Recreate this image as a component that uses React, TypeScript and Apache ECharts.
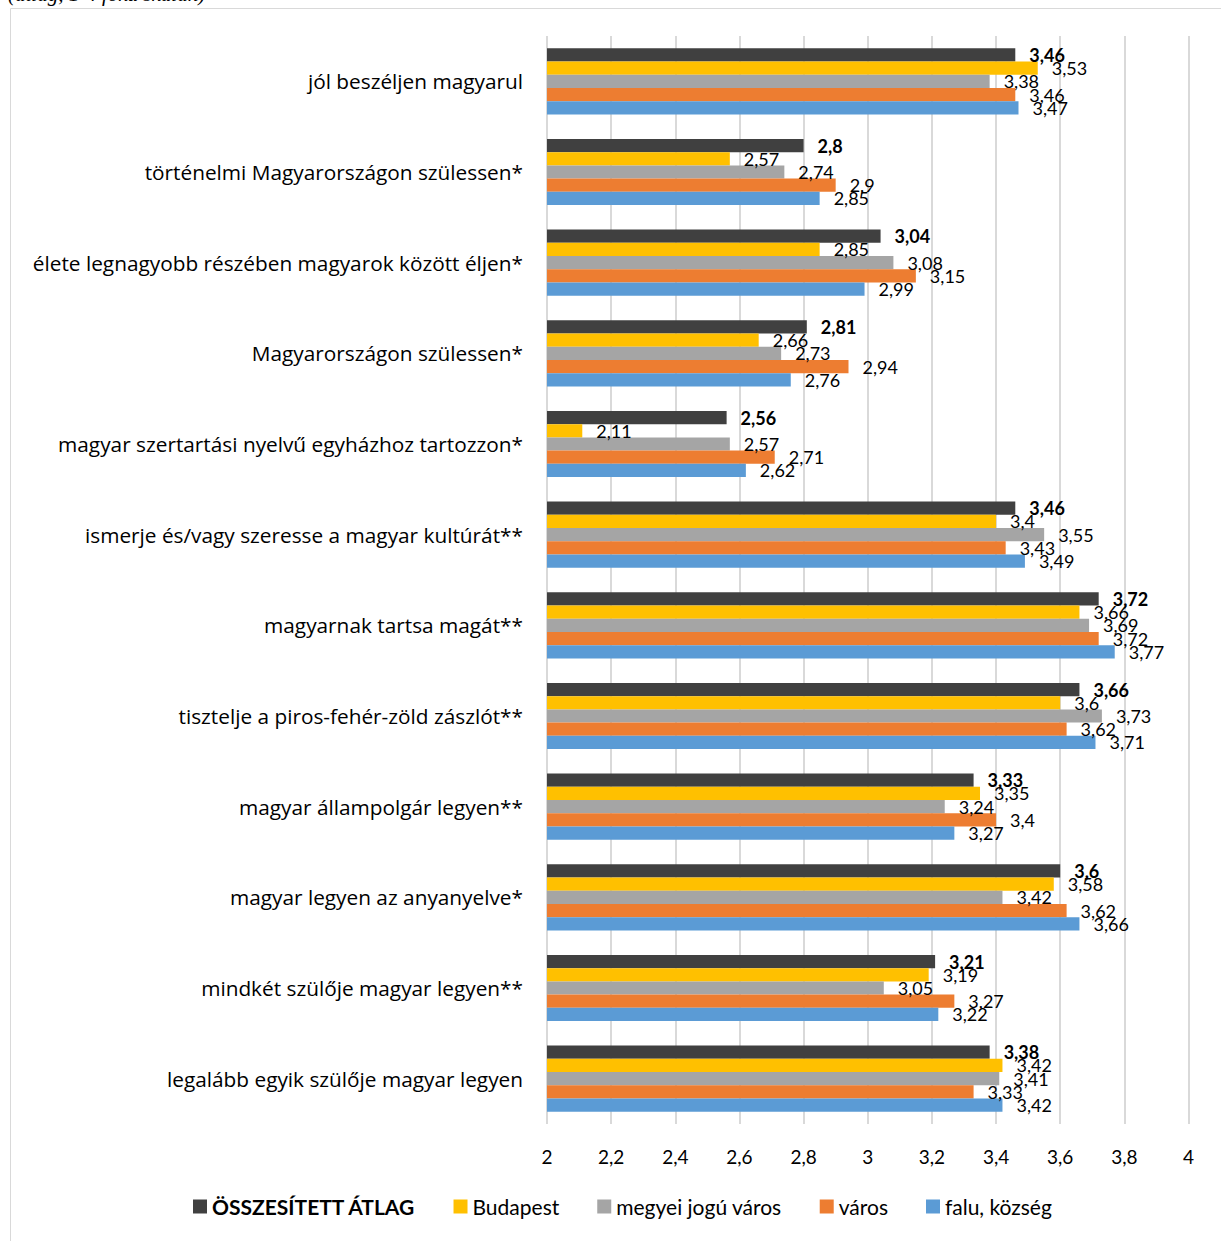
import React, { useEffect, useRef } from "react";
import * as echarts from "echarts";

const categories = [
  "jól beszéljen magyarul",
  "történelmi Magyarországon szülessen*",
  "élete legnagyobb részében magyarok között éljen*",
  "Magyarországon szülessen*",
  "magyar szertartási nyelvű egyházhoz tartozzon*",
  "ismerje és/vagy szeresse a magyar kultúrát**",
  "magyarnak tartsa magát**",
  "tisztelje a piros-fehér-zöld zászlót**",
  "magyar állampolgár legyen**",
  "magyar legyen az anyanyelve*",
  "mindkét szülője magyar legyen**",
  "legalább egyik szülője magyar legyen",
];

const seriesNames = ["ÖSSZESÍTETT ÁTLAG", "Budapest", "megyei jogú város", "város", "falu, község"];
const seriesColors = ["#404040", "#FFC000", "#A5A5A5", "#ED7D31", "#5B9BD5"];

const osszesitett = [3.46, 2.8, 3.04, 2.81, 2.56, 3.46, 3.72, 3.66, 3.33, 3.6, 3.21, 3.38];
const budapest = [3.53, 2.57, 2.85, 2.66, 2.11, 3.4, 3.66, 3.6, 3.35, 3.58, 3.19, 3.42];
const megyeiJoguVaros = [3.38, 2.74, 3.08, 2.73, 2.57, 3.55, 3.69, 3.73, 3.24, 3.42, 3.05, 3.41];
const varos = [3.46, 2.9, 3.15, 2.94, 2.71, 3.43, 3.72, 3.62, 3.4, 3.62, 3.27, 3.33];
const faluKozseg = [3.47, 2.85, 2.99, 2.76, 2.62, 3.49, 3.77, 3.71, 3.27, 3.66, 3.22, 3.42];

const seriesData = [osszesitett, budapest, megyeiJoguVaros, varos, faluKozseg];

const xTicks = ["2", "2,2", "2,4", "2,6", "2,8", "3", "3,2", "3,4", "3,6", "3,8", "4"];

const FONT = "Lato, 'Noto Sans', sans-serif";
const CAT_FONT = "'Open Sans', 'Noto Sans', sans-serif";
const fmt = (v: number) => String(Math.round(v * 100) / 100).replace(".", ",");

export default function App() {
  const ref = useRef<HTMLDivElement>(null);
  useEffect(() => {
    if (!ref.current) return;
    const chart = echarts.init(ref.current, undefined, { renderer: "svg" });
    chart.setOption({
      animation: false,
      backgroundColor: "#ffffff",
      textStyle: { fontFamily: FONT },
      graphic: [
        {
          type: "rect",
          shape: { x: 10.5, y: 8.5, width: 1230, height: 1250 },
          style: { fill: "none", stroke: "#d9d9d9", lineWidth: 1 },
          silent: true,
        },
        {
          type: "text",
          x: 8,
          y: 4,
          style: {
            text: "(átlag, 1-4 fokú skálán)",
            font: "italic 21px 'Liberation Serif', 'DejaVu Serif', serif",
            fill: "#000",
            verticalAlign: "bottom",
          },
          silent: true,
        },
      ],
      grid: { left: 547, right: 32.5, top: 36, bottom: 117, containLabel: false },
      legend: {
        data: seriesNames,
        bottom: 19,
        left: 188,
        icon: "rect",
        itemWidth: 14,
        itemHeight: 14,
        itemGap: 38,
        itemTextGap: 5,
        formatter: (name: string) => (name === seriesNames[0] ? `{b|${name}}` : `{n|${name}}`),
        textStyle: {
          fontFamily: FONT,
          fontSize: 21,
          color: "#000",
          rich: {
            b: { fontFamily: FONT, fontSize: 21, fontWeight: "bold", color: "#000" },
            n: { fontFamily: FONT, fontSize: 21, color: "#000" },
          },
        },
      },
      xAxis: {
        type: "value",
        min: 2,
        max: 4,
        interval: 0.2,
        axisLine: { show: false },
        axisTick: { show: false },
        splitLine: { show: true, lineStyle: { color: "#d9d9d9", width: 2 } },
        axisLabel: {
          fontFamily: FONT,
          fontSize: 19,
          color: "#000",
          margin: 23,
          formatter: (v: number) => xTicks[Math.round((v - 2) / 0.2)] ?? fmt(v),
        },
      },
      yAxis: {
        type: "category",
        data: categories,
        inverse: true,
        axisLine: { show: false },
        axisTick: { show: false },
        axisLabel: { fontFamily: CAT_FONT, fontSize: 20.8, color: "#000", margin: 24 },
      },
      series: seriesNames.map((name, i) => ({
        name,
        type: "bar",
        data: seriesData[i],
        barGap: "0%",
        barCategoryGap: "27%",
        itemStyle: { color: seriesColors[i] },
        label: {
          show: true,
          position: "right",
          distance: 14,
          fontFamily: FONT,
          fontSize: 18,
          color: "#000",
          fontWeight: i === 0 ? "bold" : "normal",
          formatter: (p: any) => fmt(p.value),
        },
      })),
    });
    return () => chart.dispose();
  }, []);
  return (
    <div style={{ position: "fixed", left: 0, top: 0, width: 1221, height: 1241, background: "#fff" }}>
      <div ref={ref} style={{ width: 1221, height: 1241 }} />
    </div>
  );
}
